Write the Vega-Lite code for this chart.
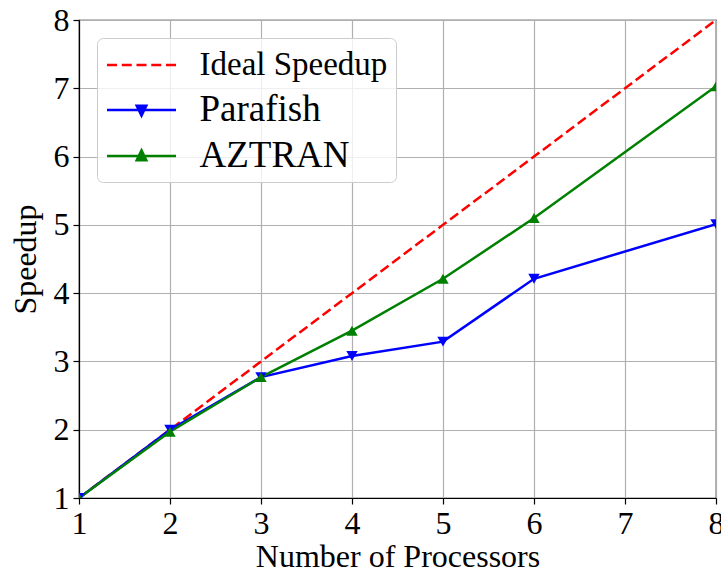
{
  "$schema": "https://vega.github.io/schema/vega-lite/v6.json",
  "width": 637,
  "height": 478,
  "autosize": "none",
  "padding": {"left": 79, "top": 20, "right": 5, "bottom": 75},
  "background": "white",
  "config": {
    "font": "Liberation Serif",
    "view": {"stroke": "black", "strokeWidth": 1.2},
    "axis": {
      "domainColor": "black", "domainWidth": 1.2,
      "tickColor": "black", "tickWidth": 1.2, "tickSize": 6,
      "labelFont": "Liberation Serif", "labelFontSize": 32, "labelColor": "black",
      "titleFont": "Liberation Serif", "titleFontSize": 32, "titleFontWeight": "normal", "titleColor": "black",
      "gridColor": "#b0b0b0", "gridWidth": 1.2, "labelPadding": 4,
      "labelFlush": false, "labelOverlap": false
    }
  },
  "data": {
    "values": [
      {"processors": 1, "speedup": 1, "series": "Ideal Speedup"},
      {"processors": 2, "speedup": 2, "series": "Ideal Speedup"},
      {"processors": 3, "speedup": 3, "series": "Ideal Speedup"},
      {"processors": 4, "speedup": 4, "series": "Ideal Speedup"},
      {"processors": 5, "speedup": 5, "series": "Ideal Speedup"},
      {"processors": 6, "speedup": 6, "series": "Ideal Speedup"},
      {"processors": 8, "speedup": 8, "series": "Ideal Speedup"},
      {"processors": 1, "speedup": 1.0, "series": "Parafish"},
      {"processors": 2, "speedup": 2.0, "series": "Parafish"},
      {"processors": 3, "speedup": 2.77, "series": "Parafish"},
      {"processors": 4, "speedup": 3.08, "series": "Parafish"},
      {"processors": 5, "speedup": 3.29, "series": "Parafish"},
      {"processors": 6, "speedup": 4.21, "series": "Parafish"},
      {"processors": 8, "speedup": 5.01, "series": "Parafish"},
      {"processors": 1, "speedup": 1.0, "series": "AZTRAN"},
      {"processors": 2, "speedup": 1.97, "series": "AZTRAN"},
      {"processors": 3, "speedup": 2.77, "series": "AZTRAN"},
      {"processors": 4, "speedup": 3.45, "series": "AZTRAN"},
      {"processors": 5, "speedup": 4.21, "series": "AZTRAN"},
      {"processors": 6, "speedup": 5.1, "series": "AZTRAN"},
      {"processors": 8, "speedup": 7.03, "series": "AZTRAN"}
    ]
  },
  "encoding": {
    "x": {
      "field": "processors", "type": "quantitative",
      "scale": {"domain": [1, 8], "nice": false, "zero": false},
      "axis": {"values": [1, 2, 3, 4, 5, 6, 7, 8], "format": "d", "title": "Number of Processors", "titlePadding": 2}
    },
    "y": {
      "field": "speedup", "type": "quantitative",
      "scale": {"domain": [1, 8], "nice": false, "zero": false},
      "axis": {"values": [1, 2, 3, 4, 5, 6, 7, 8], "format": "d", "title": "Speedup", "titlePadding": 11}
    },
    "color": {
      "field": "series", "type": "nominal",
      "scale": {"domain": ["Ideal Speedup", "Parafish", "AZTRAN"], "range": ["#ff0000", "#0000ff", "#008000"]},
      "legend": {
        "title": null, "orient": "none", "legendX": 18, "legendY": 18,
        "symbolSize": 1260, "symbolStrokeWidth": 2.5, "symbolOffset": 17.5, "labelOffset": 39, "padding": 8,
        "rowPadding": 9, "labelFont": "Liberation Serif", "labelFontSize": 37, "labelColor": "black", "labelLimit": 500,
        "fillColor": "rgba(255,255,255,0.8)", "strokeColor": "#cccccc", "cornerRadius": 6,
        "encode": {
          "symbols": {
            "update": {
              "shape": {"signal": "datum.value === 'Ideal Speedup' ? 'M-1.944,0H-1.381M-1.113,0H-0.55M-0.282,0H0.282M0.55,0H1.113M1.381,0H1.944' : datum.value === 'Parafish' ? 'M-1.944,0H1.944M-0.27,-0.24L0.27,-0.24L0,0.32Z' : 'M-1.944,0H1.944M0,-0.32L0.27,0.24L-0.27,0.24Z'"},
              "fill": {"signal": "scale('color', datum.value)"},
              "stroke": {"signal": "scale('color', datum.value)"},
              "strokeWidth": {"value": 2.5},
              "strokeDash": {"value": []},
              "size": {"value": 1260},
              "opacity": {"value": 1}
            }
          },
          "labels": {
            "update": {
              "fontSize": {"signal": "datum.value === 'Ideal Speedup' ? 33 : 37"}
            }
          }
        }
      }
    }
  },
  "layer": [
    {
      "transform": [{"filter": "datum.series === 'Ideal Speedup'"}],
      "mark": {"type": "line", "strokeDash": [10, 4.5], "strokeWidth": 2.5, "clip": true}
    },
    {
      "transform": [{"filter": "datum.series !== 'Ideal Speedup'"}],
      "mark": {"type": "line", "strokeWidth": 2.5, "clip": true}
    },
    {
      "transform": [{"filter": "datum.series !== 'Ideal Speedup'"}],
      "mark": {"type": "point", "filled": true, "opacity": 1, "size": 130, "clip": true},
      "encoding": {
        "shape": {
          "field": "series", "type": "nominal",
          "scale": {"domain": ["Parafish", "AZTRAN"], "range": ["triangle-down", "triangle-up"]},
          "legend": null
        }
      }
    }
  ]
}
